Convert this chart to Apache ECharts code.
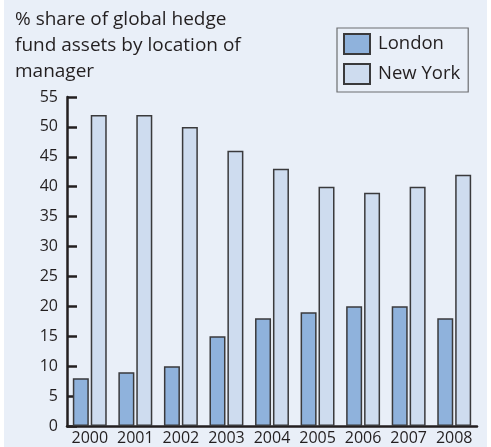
<!DOCTYPE html>
<html><head><meta charset="utf-8">
<script src="https://cdn.jsdelivr.net/npm/echarts@6/dist/echarts.min.js"></script>
<style>html,body{margin:0;padding:0;background:#fff}#c{width:491px;height:447px}</style>
</head><body><div id="c"></div>
<script>
const years = ['2000','2001','2002','2003','2004','2005','2006','2007','2008'];
const london = [8, 9, 10, 15, 18, 19, 20, 20, 18];
const newYork = [52, 52, 50, 46, 43, 40, 39, 40, 42];
const titleLines = ['% share of global hedge', 'fund assets by location of', 'manager'];
const FONT = 'Open Sans';
const chart = echarts.init(document.getElementById('c'));
chart.setOption({
  animation: false,
  backgroundColor: '#ffffff',
  graphic: [
    { type: 'rect', left: 4, top: 0, shape: { width: 483, height: 447 }, style: { fill: '#e9eff8' }, z: -10 },
    { type: 'text', left: 15, top: 7, style: { text: titleLines.join('\n'), font: '19px "Open Sans"', fill: '#231f20', lineHeight: 26 } }
  ],
  legend: {
    orient: 'vertical', left: 337, top: 28,
    itemWidth: 26, itemHeight: 20, itemGap: 8,
    padding: [5, 8, 7, 6],
    borderColor: '#6d6e71', borderWidth: 1.2,
    icon: 'rect',
    textStyle: { fontFamily: FONT, fontSize: 18.5, color: '#231f20', padding: [0, 0, 0, 3] },
    data: ['London', 'New York']
  },
  grid: { left: 67, right: 14, top: 97, bottom: 21, containLabel: false },
  xAxis: {
    type: 'category', data: years,
    axisLine: { lineStyle: { color: '#231f20', width: 2.5 } },
    axisTick: { inside: true, length: 8, interval: 0, lineStyle: { color: '#231f20', width: 2.5 } },
    axisLabel: { fontFamily: FONT, fontSize: 16, color: '#231f20', margin: 4, interval: 0, hideOverlap: false }
  },
  yAxis: {
    type: 'value', min: 0, max: 55, interval: 5,
    splitLine: { show: false },
    axisLine: { show: true, lineStyle: { color: '#231f20', width: 2.5 } },
    axisTick: { show: true, inside: true, length: 10, lineStyle: { color: '#231f20', width: 2.5 } },
    axisLabel: { fontFamily: FONT, fontSize: 16, color: '#231f20', margin: 9 }
  },
  series: [
    { name: 'London', type: 'bar', data: london, barWidth: 16, barGap: '12%',
      itemStyle: { color: '#8fb2dc', borderColor: '#3a3a3c', borderWidth: 1.5 } },
    { name: 'New York', type: 'bar', data: newYork, barWidth: 16,
      itemStyle: { color: '#cedcef', borderColor: '#3a3a3c', borderWidth: 1.5 } }
  ]
});
</script></body></html>
